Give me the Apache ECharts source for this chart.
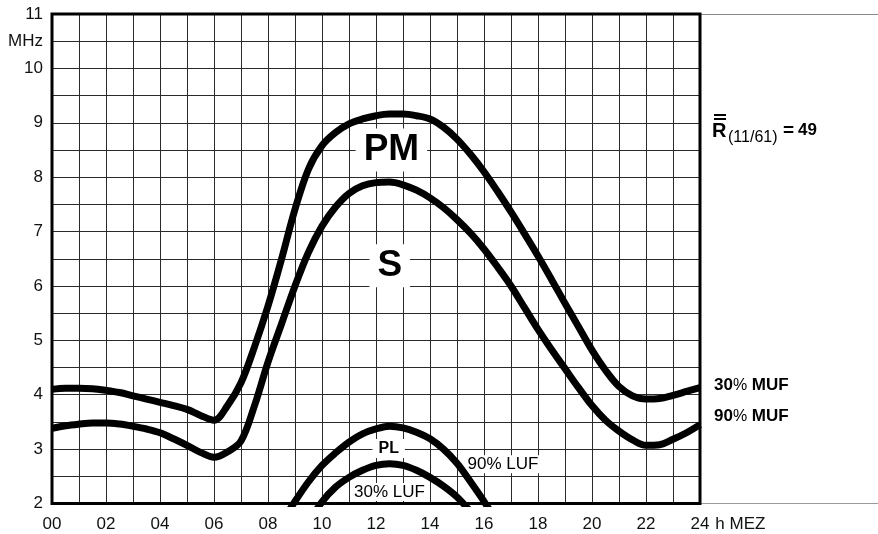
<!DOCTYPE html>
<html>
<head>
<meta charset="utf-8">
<script src="https://cdn.jsdelivr.net/npm/echarts@6/dist/echarts.min.js"></script>
<style>
html,body{margin:0;padding:0;background:#fff;}
#c{width:878px;height:534px;}
</style>
</head>
<body>
<div id="c"></div>
<script>
// ---- data (hour MEZ, frequency MHz) ----
const xTicks = [0, 2, 4, 6, 8, 10, 12, 14, 16, 18, 20, 22, 24];
const yTicks = [2, 3, 4, 5, 6, 7, 8, 9, 10, 11];

const muf30 = [[0,4.10],[0.5,4.12],[1,4.12],[1.5,4.11],[2,4.08],[2.5,4.04],[3,3.98],[3.5,3.92],[4,3.86],[4.5,3.80],[5,3.73],[5.5,3.62],[6,3.53],[6.5,3.80],[7,4.22],[7.5,4.88],[8,5.63],[8.5,6.49],[9,7.41],[9.5,8.15],[10,8.58],[10.5,8.82],[11,8.98],[11.5,9.07],[12,9.13],[12.5,9.16],[13,9.16],[13.5,9.13],[14,9.07],[14.5,8.92],[15,8.70],[15.5,8.42],[16,8.10],[16.5,7.74],[17,7.36],[17.5,6.96],[18,6.55],[18.5,6.12],[19,5.68],[19.5,5.25],[20,4.82],[20.5,4.45],[21,4.15],[21.5,3.98],[22,3.92],[22.5,3.93],[23,3.99],[23.5,4.06],[24,4.13]];

const muf90 = [[0,3.38],[0.5,3.43],[1,3.46],[1.5,3.48],[2,3.48],[2.5,3.46],[3,3.42],[3.5,3.37],[4,3.30],[4.5,3.19],[5,3.07],[5.5,2.94],[6,2.85],[6.5,2.95],[7,3.15],[7.5,3.80],[8,4.60],[8.5,5.30],[9,6.00],[9.5,6.62],[10,7.10],[10.5,7.45],[11,7.70],[11.5,7.84],[12,7.90],[12.5,7.91],[13,7.86],[13.5,7.76],[14,7.62],[14.5,7.44],[15,7.22],[15.5,6.97],[16,6.68],[16.5,6.35],[17,6.00],[17.5,5.60],[18,5.20],[18.5,4.83],[19,4.48],[19.5,4.13],[20,3.80],[20.5,3.53],[21,3.33],[21.5,3.17],[22,3.07],[22.5,3.08],[23,3.18],[23.5,3.30],[24,3.45]];

const luf90 = [[8.5,1.65],[9,2.04],[9.5,2.40],[10,2.70],[10.5,2.93],[11,3.13],[11.5,3.28],[12,3.37],[12.5,3.42],[13,3.39],[13.5,3.31],[14,3.19],[14.5,3.00],[15,2.74],[15.5,2.40],[16,2.04],[16.5,1.65]];

const luf30 = [[9.5,1.65],[10,2.03],[10.5,2.30],[11,2.48],[11.5,2.61],[12,2.70],[12.5,2.73],[13,2.70],[13.5,2.61],[14,2.48],[14.5,2.32],[15,2.12],[15.5,1.85]];

// in-plot annotations: text and anchor in data coordinates
const labelPM = {text: 'PM', at: [12.57, 8.50]};
const labelS = {text: 'S', at: [12.51, 6.37]};
const labelPL = {text: 'PL', at: [12.47, 3.01]};
const labelLuf30 = {text: '30% LUF', at: [12.5, 2.21]};
const labelLuf90 = {text: '90% LUF', at: [16.70, 2.72]};

const FONT = '"Liberation Sans", Arial, Helvetica, sans-serif';

const chart = echarts.init(document.getElementById('c'), null, {renderer: 'canvas'});

function curve(data) {
  return {
    type: 'line', data: data, xAxisIndex: 0, yAxisIndex: 0,
    smooth: 0.35, symbol: 'none', clip: true,
    lineStyle: {color: '#000', width: 7, cap: 'butt', join: 'round'},
    z: 3, silent: true
  };
}

function textMark(obj, style) {
  return {
    value: obj.at,
    label: Object.assign({
      show: true, position: 'inside', formatter: obj.text, opacity: 1,
      color: '#000', fontFamily: FONT, backgroundColor: '#fff', textBorderWidth: 0
    }, style)
  };
}

const option = {
  animation: false,
  backgroundColor: '#fff',
  grid: [
    {left: 52, right: 178, top: 14, bottom: 30.5, show: true, borderColor: '#000', borderWidth: 3, backgroundColor: 'transparent', z: 4, outerBoundsMode: 'none', containLabel: false},
    {left: 700, right: 0, top: 14, bottom: 30.5, show: false, outerBoundsMode: 'none', containLabel: false}
  ],
  xAxis: [
    {
      type: 'value', gridIndex: 0, min: 0, max: 24, interval: 1,
      axisLine: {show: false}, axisTick: {show: false},
      splitLine: {show: true, lineStyle: {color: '#2a2a2a', width: 1}},
      axisLabel: {
        color: '#111', fontFamily: FONT, fontSize: 17, margin: 12,
        showMinLabel: true, showMaxLabel: true,
        formatter: function (v) { return xTicks.indexOf(v) >= 0 ? (v < 10 ? '0' + v : String(v)) : ''; }
      },
      name: 'h MEZ', nameLocation: 'end', nameGap: 14,
      nameTextStyle: {color: '#111', fontFamily: FONT, fontSize: 17, verticalAlign: 'top', padding: [12, 0, 0, 0]}
    },
    {type: 'value', gridIndex: 1, min: 0, max: 1, position: 'bottom',
      axisLine: {show: true, lineStyle: {color: '#9a9a9a', width: 1}}, axisTick: {show: false}, axisLabel: {show: false}, splitLine: {show: false}},
    {type: 'value', gridIndex: 1, min: 0, max: 1, position: 'top',
      axisLine: {show: true, lineStyle: {color: '#8a8a8a', width: 1}}, axisTick: {show: false}, axisLabel: {show: false}, splitLine: {show: false}}
  ],
  yAxis: [
    {
      type: 'value', gridIndex: 0, min: 2, max: 11, interval: 0.5,
      axisLine: {show: false}, axisTick: {show: false},
      splitLine: {show: true, lineStyle: {color: '#2a2a2a', width: 1}},
      axisLabel: {
        color: '#111', fontFamily: FONT, fontSize: 17, margin: 9,
        showMinLabel: true, showMaxLabel: true,
        formatter: function (v) {
          if (Math.abs(v - 10.5) < 1e-6) return 'MHz';
          for (const t of yTicks) if (Math.abs(v - t) < 1e-6) return String(t);
          return '';
        }
      }
    },
    {type: 'value', gridIndex: 1, min: 0, max: 1, show: false}
  ],
  series: [
    curve(muf30),
    curve(muf90),
    curve(luf90),
    curve(luf30),
    {
      type: 'scatter', xAxisIndex: 0, yAxisIndex: 0, symbolSize: 1, z: 2, silent: true,
      itemStyle: {opacity: 1, color: '#fff'},
      emphasis: {disabled: true},
      data: [
        textMark(labelPM, {fontSize: 37, fontWeight: 'bold', padding: [4, 8, 2, 8]}),
        textMark(labelS, {fontSize: 37, fontWeight: 'bold', padding: [4, 8, 2, 8]}),
        textMark(labelPL, {fontSize: 16, fontWeight: 'bold', padding: [2, 6, 1, 6]}),
        textMark(labelLuf30, {fontSize: 17, padding: [1, 2, 0, 2]}),
        textMark(labelLuf90, {fontSize: 17, padding: [1, 2, 0, 2]})
      ]
    }
  ],
  graphic: [
    {type: 'line', shape: {x1: 714, y1: 115, x2: 726, y2: 115}, style: {stroke: '#000', lineWidth: 2}},
    {type: 'line', shape: {x1: 714, y1: 119, x2: 726, y2: 119}, style: {stroke: '#000', lineWidth: 2}},
    {type: 'text', x: 712, y: 121, style: {text: 'R', font: 'bold 20px ' + FONT, fill: '#000'}},
    {type: 'text', x: 728, y: 130, style: {text: '(11/61)', font: '16px ' + FONT, fill: '#000'}},
    {type: 'text', x: 783, y: 121, style: {text: '=', font: 'bold 19px ' + FONT, fill: '#000'}},
    {type: 'text', x: 798, y: 122, style: {text: '49', font: 'bold 17px ' + FONT, fill: '#000'}},
    {type: 'text', x: 714, y: 377, style: {text: '{b|30}{p|%}{b| MUF}', rich: {b: {font: 'bold 17px ' + FONT, fill: '#000'}, p: {font: '16px ' + FONT, fill: '#000'}}}},
    {type: 'text', x: 714, y: 408, style: {text: '{b|90}{p|%}{b| MUF}', rich: {b: {font: 'bold 17px ' + FONT, fill: '#000'}, p: {font: '16px ' + FONT, fill: '#000'}}}}
  ]
};

chart.setOption(option);
</script>
</body>
</html>
